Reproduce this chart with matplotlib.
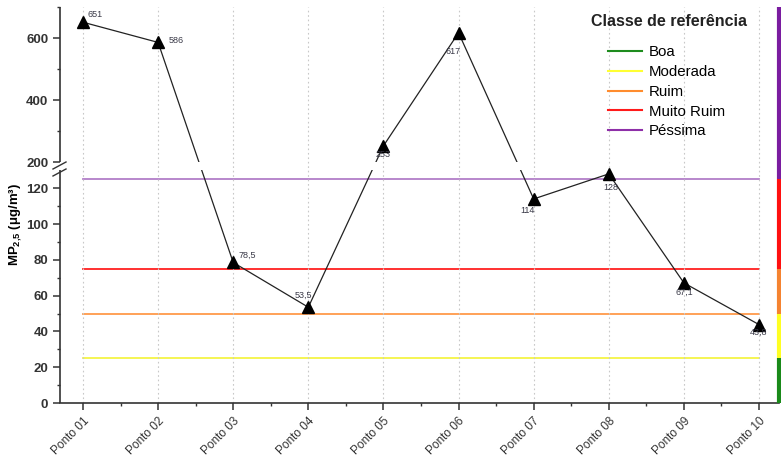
import numpy as np
import matplotlib.pyplot as plt
import matplotlib.transforms as mtransforms

plt.rcParams['font.family'] = ['Liberation Sans', 'DejaVu Sans']
plt.rcParams['mathtext.fontset'] = 'custom'
plt.rcParams['mathtext.rm'] = 'Liberation Sans'
plt.rcParams['mathtext.bf'] = 'Liberation Sans:bold'

pontos = ['Ponto 01', 'Ponto 02', 'Ponto 03', 'Ponto 04', 'Ponto 05',
          'Ponto 06', 'Ponto 07', 'Ponto 08', 'Ponto 09', 'Ponto 10']
mp25 = [651, 586, 78.5, 53.5, 253, 617, 114, 128, 67.1, 43.8]

# classes de referencia (limite inferior, limite superior)
classes = ['Boa', 'Moderada', 'Ruim', 'Muito Ruim', 'Péssima']
limites = [(0, 25), (25, 50), (50, 75), (75, 125), (125, 700)]
cores = ['#1e8c1e', '#ffff33', '#ff8c2e', '#ff1a1a', '#8e2fa8']
cores_barra = ['#1a8a1a', '#ffff22', '#f58330', '#ff1010', '#7a1ca0']
linhas_ref = [25, 50, 75, 125]
cores_ref = ['#f5f545', '#ff9a4a', '#ff2020', '#b27ec8']

# posicao dos rotulos de valor (pixels)
desloc = [(5, 8), (11, 2), (5, 7), (-5, 12), (0, -9),
          (-5, -19), (-6, -12), (2, -14), (0, -9), (0, -8)]
alinh = ['left', 'left', 'left', 'center', 'center',
         'center', 'center', 'center', 'center', 'center']

# eixo y quebrado: 0-130 escala cheia, 200-700 comprimida
LO, HI, GAP = 1.792, 0.311, 8.0
Y1, Y2 = 130, 200


def fwd(y):
    y = np.asarray(y, float)
    return np.where(y <= Y1, y * LO,
                    np.where(y >= Y2, Y1 * LO + GAP + (y - Y2) * HI,
                             Y1 * LO + (y - Y1) * GAP / (Y2 - Y1)))


def inv(v):
    v = np.asarray(v, float)
    a = Y1 * LO
    return np.where(v <= a, v / LO,
                    np.where(v >= a + GAP, Y2 + (v - a - GAP) / HI,
                             Y1 + (v - a) * (Y2 - Y1) / GAP))


fig = plt.figure(figsize=(7.81, 4.59), dpi=100)
ax = fig.add_axes([60 / 781, 1 - 403 / 459, 719 / 781, 396 / 459])
ax.set_yscale('function', functions=(fwd, inv))

x = np.arange(1, len(pontos) + 1)
ax.set_xlim(0.694, 10.266)
ax.set_ylim(0, 700)

for xi in x:
    ax.axvline(xi, color='#c8c8c8', lw=0.8, ls=(0, (1.5, 2.5)), zorder=2.2)

for val, c in zip(linhas_ref, cores_ref):
    ax.plot([1, 10], [val, val], color=c, lw=1.3, zorder=1.5)

ax.plot(x, mp25, color='#222222', lw=0.9, zorder=2)
ax.axhspan(Y1, Y2, color='white', lw=0, zorder=2.1)
ax.plot(x, mp25, ls='none', marker='^', ms=9, color='black', zorder=3)

for xi, v, d, ha in zip(x, mp25, desloc, alinh):
    txt = ('%g' % v).replace('.', ',')
    ax.annotate(txt, (xi, v), xytext=d, textcoords='offset pixels',
                ha=ha, va='center', fontsize=6.5, color='#3a3a48', zorder=4)

# barra de classes na lateral direita
trans = mtransforms.blended_transform_factory(ax.transAxes, ax.transData)
for (a, b), c in zip(limites, cores_barra):
    ax.plot([1, 1], [a, b], transform=trans, color=c, lw=3,
            solid_capstyle='butt', clip_on=False, zorder=5)

# eixo esquerdo em dois trechos com marcas de quebra
for sp in ['left', 'top', 'right']:
    ax.spines[sp].set_visible(False)
ax.spines['bottom'].set_color('#333333')
ax.spines['bottom'].set_linewidth(1.2)
for a, b in [(0, Y1), (Y2, 700)]:
    ax.plot([0, 0], [a, b], transform=trans, color='#333333', lw=1.2,
            clip_on=False, zorder=5, solid_capstyle='butt')
fig.lines.append(plt.Line2D([53 / 781, 66 / 781], [1 - 169 / 459, 1 - 162 / 459],
                            transform=fig.transFigure, color='#333333', lw=1))
fig.lines.append(plt.Line2D([53 / 781, 66 / 781], [1 - 176 / 459, 1 - 169 / 459],
                            transform=fig.transFigure, color='#333333', lw=1))

ax.set_yticks([0, 20, 40, 60, 80, 100, 120, 200, 400, 600])
ax.set_yticks([10, 30, 50, 70, 90, 110, 300, 500, 700], minor=True)
ax.set_xticks(x)
ax.set_xticks(x[:-1] + 0.5, minor=True)
ax.set_xticklabels(pontos, rotation=45, ha='right', va='top',
                   rotation_mode='anchor', fontsize=8.5, color='#333333')
for lbl in ax.get_xticklabels():
    lbl.set_transform(lbl.get_transform() + mtransforms.ScaledTranslation(
        6 / 100, -4 / 100, fig.dpi_scale_trans))
ax.tick_params(axis='both', which='major', direction='out', length=5,
               width=1.1, color='#333333')
ax.tick_params(axis='both', which='minor', direction='out', length=2.5,
               width=1, color='#333333')
ax.tick_params(axis='y', labelsize=9.5, labelcolor='#333333')
for lbl in ax.get_yticklabels():
    lbl.set_fontweight('bold')

ax.set_ylabel(r'$\mathbf{MP_{2{,}5}}$ (μg/m³)', fontsize=9.5, fontweight='bold')
ax.yaxis.set_label_coords(-0.05, 0.45)

# legenda das classes
fig.text(669 / 781, 1 - 22 / 459, 'Classe de referência', ha='center',
         va='center', fontsize=11.5, fontweight='bold', color='#222222')
handles = [plt.Line2D([], [], color=c, lw=1.5) for c in cores]
leg = ax.legend(handles, classes, loc='upper left',
                bbox_to_anchor=(600 / 781, 1 - 38 / 459),
                bbox_transform=fig.transFigure, frameon=False,
                fontsize=10.8, handlelength=2.3, handletextpad=0.45,
                labelspacing=0.38, borderpad=0)

fig.savefig('out.png', dpi=100)
